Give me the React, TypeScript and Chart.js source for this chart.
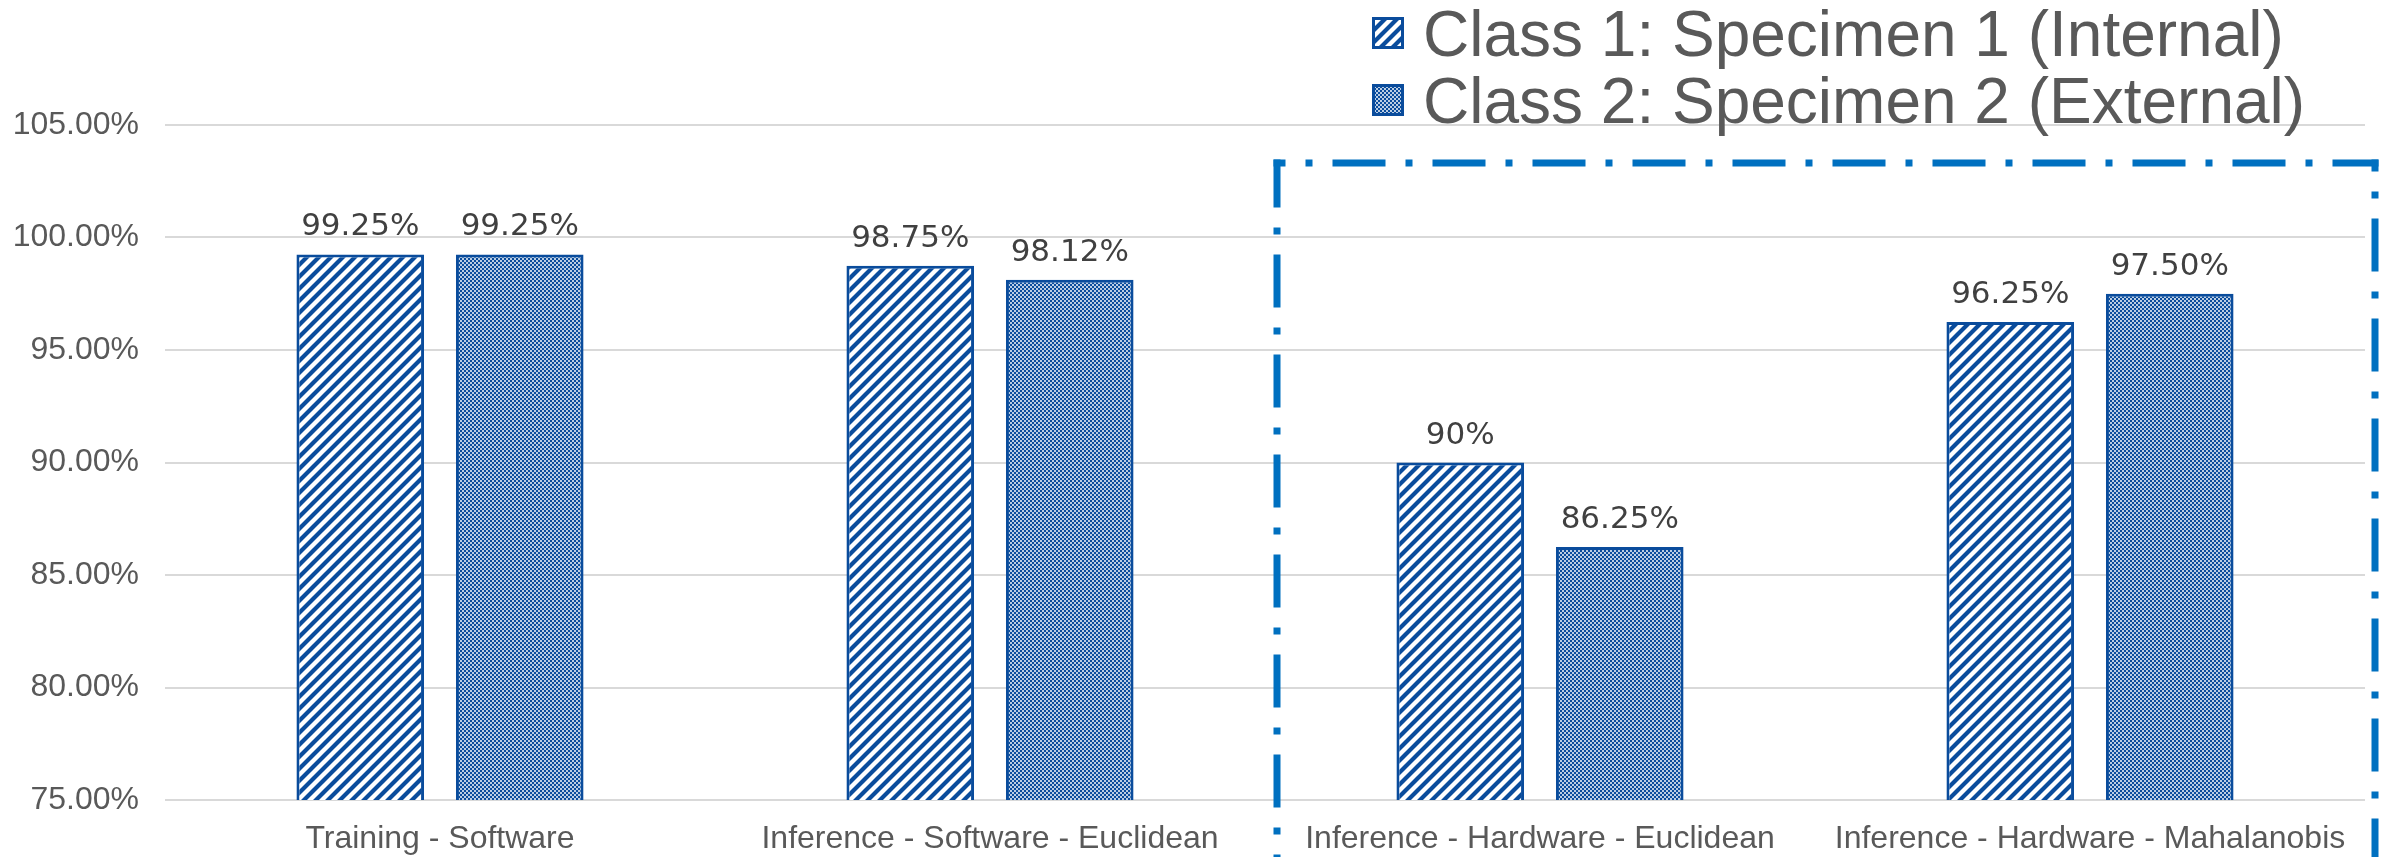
import React, { useEffect, useRef } from "react";
import { Chart, registerables } from "chart.js";

Chart.register(...registerables);

const categories = [
  "Training - Software",
  "Inference - Software - Euclidean",
  "Inference - Hardware - Euclidean",
  "Inference - Hardware - Mahalanobis",
];
const seriesNames = ["Class 1: Specimen 1 (Internal)", "Class 2: Specimen 2 (External)"];
const class1Values = [99.25, 98.75, 90, 96.25];
const class2Values = [99.25, 98.12, 86.25, 97.5];
const class1Labels = ["99.25%", "98.75%", "90%", "96.25%"];
const class2Labels = ["99.25%", "98.12%", "86.25%", "97.50%"];
const yMin = 75;
const yMax = 105;
const yStep = 5;

const BLUE = "#0A4C9C";
const BOX_BLUE = "#0070C0";
const GRID = "#D9D9D9";
const TEXT = "#595959";
const LABEL = "#404040";

function makeStripe(): CanvasPattern | string {
  const s = 12;
  const c = document.createElement("canvas");
  c.width = s;
  c.height = s;
  const ctx = c.getContext("2d");
  if (!ctx) return BLUE;
  ctx.fillStyle = "#ffffff";
  ctx.fillRect(0, 0, s, s);
  ctx.strokeStyle = BLUE;
  ctx.lineWidth = 4.2;
  ctx.beginPath();
  ctx.moveTo(-s, 2 * s);
  ctx.lineTo(2 * s, -s);
  ctx.moveTo(-s, s);
  ctx.lineTo(s, -s);
  ctx.moveTo(0, 2 * s);
  ctx.lineTo(2 * s, 0);
  ctx.stroke();
  return ctx.createPattern(c, "repeat") || BLUE;
}

function makeChecker(): CanvasPattern | string {
  const s = 4;
  const c = document.createElement("canvas");
  c.width = s;
  c.height = s;
  const ctx = c.getContext("2d");
  if (!ctx) return BLUE;
  ctx.fillStyle = BLUE;
  ctx.fillRect(0, 0, s, s);
  ctx.fillStyle = "rgba(255,255,255,0.72)";
  ctx.fillRect(0, 0, 2, 2);
  ctx.fillRect(2, 2, 2, 2);
  return ctx.createPattern(c, "repeat") || BLUE;
}

export default function App() {
  const ref = useRef<HTMLCanvasElement | null>(null);

  useEffect(() => {
    const canvas = ref.current;
    if (!canvas) return;
    const stripe = makeStripe();
    const checker = makeChecker();
    const fills = [stripe, checker];
    const valueLabels = [class1Labels, class2Labels];

    const dataLabelPlugin = {
      id: "dataLabels",
      afterDatasetsDraw(chart: any) {
        const ctx = chart.ctx;
        ctx.save();
        ctx.font = '31px "DejaVu Sans"';
        ctx.fillStyle = LABEL;
        ctx.textAlign = "center";
        ctx.textBaseline = "alphabetic";
        chart.data.datasets.forEach((_: any, di: number) => {
          const meta = chart.getDatasetMeta(di);
          meta.data.forEach((bar: any, i: number) => {
            ctx.fillText(valueLabels[di][i], bar.x, bar.y - 19);
          });
        });
        ctx.restore();
      },
    };

    const legendPlugin = {
      id: "customLegend",
      afterDraw(chart: any) {
        const ctx = chart.ctx;
        ctx.save();
        const boxX = 1372;
        const boxSize = 32;
        const textX = 1423;
        const baselines = [56, 123];
        ctx.font = '64px "Liberation Sans", Arial, sans-serif';
        ctx.textAlign = "left";
        ctx.textBaseline = "alphabetic";
        seriesNames.forEach((name, i) => {
          const by = baselines[i] - 23 - boxSize / 2;
          ctx.fillStyle = fills[i] as any;
          ctx.fillRect(boxX, by, boxSize, boxSize);
          ctx.strokeStyle = BLUE;
          ctx.lineWidth = 3;
          ctx.strokeRect(boxX + 1.5, by + 1.5, boxSize - 3, boxSize - 3);
          ctx.fillStyle = TEXT;
          ctx.fillText(name, textX, baselines[i]);
        });
        ctx.restore();
      },
    };

    const boxPlugin = {
      id: "dashBox",
      afterDraw(chart: any) {
        const ctx = chart.ctx;
        const left = 1277;
        const top = 163;
        const right = 2375;
        const bottom = 880;
        ctx.save();
        ctx.strokeStyle = BOX_BLUE;
        ctx.lineWidth = 7;
        ctx.lineCap = "butt";
        ctx.setLineDash([53, 20, 7, 20]);
        ctx.lineDashOffset = 5;
        ctx.beginPath();
        ctx.moveTo(left, top - 3.5);
        ctx.lineTo(left, bottom);
        ctx.stroke();
        ctx.lineDashOffset = 41;
        ctx.beginPath();
        ctx.moveTo(left - 3.5, top);
        ctx.lineTo(right + 3.5, top);
        ctx.stroke();
        ctx.lineDashOffset = 41;
        ctx.beginPath();
        ctx.moveTo(right, top - 3.5);
        ctx.lineTo(right, bottom);
        ctx.stroke();
        ctx.restore();
      },
    };

    const chart = new Chart(canvas, {
      type: "bar",
      data: {
        labels: categories,
        datasets: [
          {
            label: seriesNames[0],
            data: class1Values,
            backgroundColor: stripe as any,
            borderColor: BLUE,
            borderWidth: 3,
            borderSkipped: false,
            barPercentage: 0.8,
            categoryPercentage: 0.58,
          },
          {
            label: seriesNames[1],
            data: class2Values,
            backgroundColor: checker as any,
            borderColor: BLUE,
            borderWidth: 3,
            borderSkipped: false,
            barPercentage: 0.8,
            categoryPercentage: 0.58,
          },
        ],
      },
      options: {
        responsive: false,
        maintainAspectRatio: false,
        animation: false,
        devicePixelRatio: 1,
        layout: { padding: { top: 125, left: 10, right: 17, bottom: 0 } },
        plugins: {
          legend: { display: false },
          tooltip: { enabled: false },
          title: { display: false },
        },
        scales: {
          x: {
            grid: { display: false, drawTicks: false },
            border: { display: false },
            ticks: {
              color: TEXT,
              padding: 20,
              font: { family: '"Liberation Sans", Arial, sans-serif', size: 32 },
              maxRotation: 0,
              autoSkip: false,
            },
            afterFit: (s: any) => {
              s.height = 57;
            },
          },
          y: {
            min: yMin,
            max: yMax,
            grid: { color: GRID, lineWidth: 2, drawTicks: false },
            border: { display: false },
            ticks: {
              stepSize: yStep,
              color: TEXT,
              padding: 26,
              font: { family: '"Liberation Sans", Arial, sans-serif', size: 32 },
              callback: (v: any) => Number(v).toFixed(2) + "%",
            },
            afterFit: (s: any) => {
              s.width = 155;
            },
          },
        },
      },
      plugins: [dataLabelPlugin, boxPlugin, legendPlugin],
    });

    return () => {
      chart.destroy();
    };
  }, []);

  return (
    <div
      style={{
        position: "fixed",
        left: 0,
        top: 0,
        width: 2382,
        height: 857,
        background: "#ffffff",
      }}
    >
      <canvas ref={ref} width={2382} height={857} />
    </div>
  );
}
